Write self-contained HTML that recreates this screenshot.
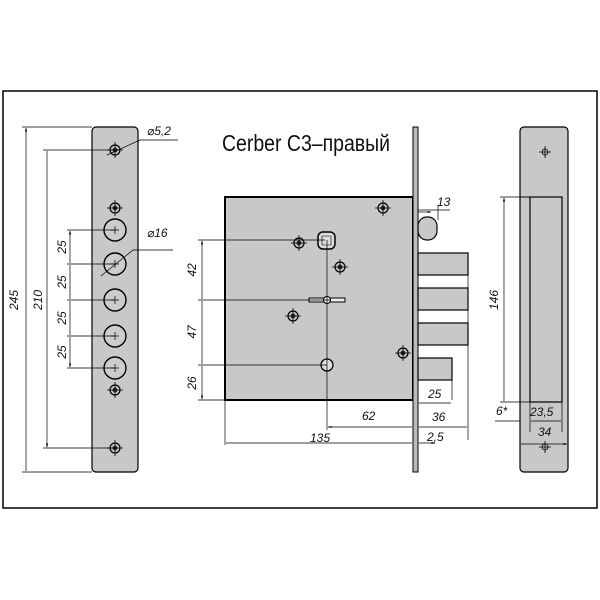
<!DOCTYPE html>
<html><head><meta charset="utf-8"><style>
html,body{margin:0;padding:0;background:#fff;}
svg{display:block;}
text{font-family:"Liberation Sans","DejaVu Sans",sans-serif;font-style:italic;fill:#111;}
</style></head><body>
<svg width="600" height="600" viewBox="0 0 600 600" xmlns="http://www.w3.org/2000/svg">
<defs>
<marker id="a" markerWidth="6" markerHeight="6" refX="5" refY="3" orient="auto-start-reverse"><path d="M0,1.5 L6,3 L0,4.5z" fill="#000"/></marker>
<g id="scr"><circle r="5" fill="none" stroke="#000" stroke-width="1.2"/><circle r="2.5" fill="#333"/><path d="M-8,0H8M0,-8V8" stroke="#000" stroke-width="0.8"/></g>
<g id="hole"><circle r="11" fill="#ccc" stroke="#000" stroke-width="1.4"/><path d="M-4,0H4M0,-4V4" stroke="#000" stroke-width="0.7"/></g>
</defs>
<rect x="3" y="91" width="594" height="417" fill="none" stroke="#000" stroke-width="1.5"/>

<rect x="92" y="127" width="46" height="345" rx="4" fill="#c8c8c8" stroke="#000" stroke-width="1.2"/>
<use href="#scr" x="115" y="150"/><use href="#scr" x="115" y="208"/>
<use href="#hole" x="115" y="230"/><use href="#hole" x="115" y="264"/><use href="#hole" x="115" y="300"/><use href="#hole" x="115" y="336"/><use href="#hole" x="115" y="368"/>
<use href="#scr" x="115" y="390"/><use href="#scr" x="115" y="448"/>
<g stroke="#000" stroke-width="0.7" fill="none">
<path d="M22,127H92M22,472H92M43,150H115M43,448H115M67,230H115M67,264H115M67,300H115M67,336H115M67,368H115"/>
<path d="M26,128V471M47,151V447" marker-start="url(#a)" marker-end="url(#a)"/>
<path d="M70,231V263M70,265V299M70,301V335M70,337V367" marker-start="url(#a)" marker-end="url(#a)"/>
<path d="M107,155L140,140H178M101,276L133,250H173"/>
</g>
<text x="18" y="300" font-size="12" transform="rotate(-90 18 300)" text-anchor="middle">245</text>
<text x="42" y="300" font-size="12" transform="rotate(-90 42 300)" text-anchor="middle">210</text>
<g font-size="12" text-anchor="middle">
<text transform="translate(66,247) rotate(-90)">25</text>
<text transform="translate(66,282) rotate(-90)">25</text>
<text transform="translate(66,318) rotate(-90)">25</text>
<text transform="translate(66,352) rotate(-90)">25</text>
</g>
<text x="147" y="135" font-size="12">⌀5,2</text>
<text x="147" y="237" font-size="12">⌀16</text>

<text x="222" y="151" font-size="23" style="font-style:normal" textLength="168" lengthAdjust="spacingAndGlyphs">Cerber C3–правый</text>

<rect x="225" y="197" width="188" height="203" fill="#c8c8c8" stroke="#000" stroke-width="2"/>
<rect x="413" y="127" width="5" height="345" fill="#bbb" stroke="#000" stroke-width="1"/>
<rect x="418" y="217" width="19" height="23" rx="9" fill="#c8c8c8" stroke="#000" stroke-width="1.2"/>
<rect x="418" y="253" width="50" height="22" fill="#c8c8c8" stroke="#000" stroke-width="1.2"/>
<rect x="418" y="288" width="50" height="22" fill="#c8c8c8" stroke="#000" stroke-width="1.2"/>
<rect x="418" y="323" width="50" height="22" fill="#c8c8c8" stroke="#000" stroke-width="1.2"/>
<rect x="418" y="358" width="34" height="22" fill="#c8c8c8" stroke="#000" stroke-width="1.2"/>
<use href="#scr" x="383" y="208"/><use href="#scr" x="299" y="243"/><use href="#scr" x="340" y="267"/><use href="#scr" x="293" y="316"/><use href="#scr" x="403" y="353"/>
<rect x="318" y="232" width="17" height="17" rx="5" fill="#ddd" stroke="#000" stroke-width="1.5"/>
<path d="M322,236h9v9h-9z" fill="none" stroke="#000" stroke-width="0.6"/>
<rect x="309" y="298" width="36" height="4" fill="#eee" stroke="#000" stroke-width="1"/>
<circle cx="327" cy="300" r="3.5" fill="#eee" stroke="#000"/>
<circle cx="327" cy="365" r="6" fill="#ddd" stroke="#000" stroke-width="1.3"/>
<g stroke="#000" stroke-width="0.7" fill="none">
<path d="M198,240H325M198,300H330M198,365H327M198,400H225M327,240V430M225,400V445M418,210H450M438,205V220M468,275V440M452,380V400M413,400V450"/>
<path d="M202,241V299M202,301V364M202,366V399" marker-start="url(#a)" marker-end="url(#a)"/>
<path d="M328,427H412M226,443H412M419,427H467M419,403H451M419,443H435" marker-start="url(#a)" marker-end="url(#a)"/>
<path d="M418,212H431" marker-end="url(#a)"/>
</g>
<g font-size="12" text-anchor="middle">
<text transform="translate(196,270) rotate(-90)">42</text>
<text transform="translate(196,332) rotate(-90)">47</text>
<text transform="translate(196,383) rotate(-90)">26</text>
</g>
<g font-size="12">
<text x="362" y="420">62</text><text x="310" y="442">135</text>
<text x="428" y="398">25</text><text x="432" y="421">36</text><text x="427" y="441">2,5</text>
<text x="437" y="206">13</text>
</g>

<rect x="520" y="127" width="48" height="345" rx="4" fill="#c8c8c8" stroke="#000" stroke-width="1.2"/>
<rect x="530" y="197" width="32" height="205" fill="#c8c8c8" stroke="#000" stroke-width="1.2"/>
<path d="M520,197H530" stroke="#000" stroke-width="0.8"/>
<g stroke="#000" stroke-width="0.8"><circle cx="545" cy="152" r="3" fill="none"/><path d="M539,152h12M545,146v12"/><circle cx="545" cy="447" r="3" fill="none"/><path d="M539,447h12M545,441v12"/></g>
<g stroke="#000" stroke-width="0.7" fill="none">
<path d="M500,197H530M500,402H530M530,402V432M562,402V432M520,420V450M568,430V450M495,421H520"/>
<path d="M504,198V401M531,421H561M521,444H567" marker-start="url(#a)" marker-end="url(#a)"/>
</g>
<text transform="translate(498,300) rotate(-90)" font-size="12" text-anchor="middle">146</text>
<g font-size="12"><text x="496" y="415">6*</text><text x="530" y="416">23,5</text><text x="538" y="436">34</text></g>
</svg>
</body></html>
